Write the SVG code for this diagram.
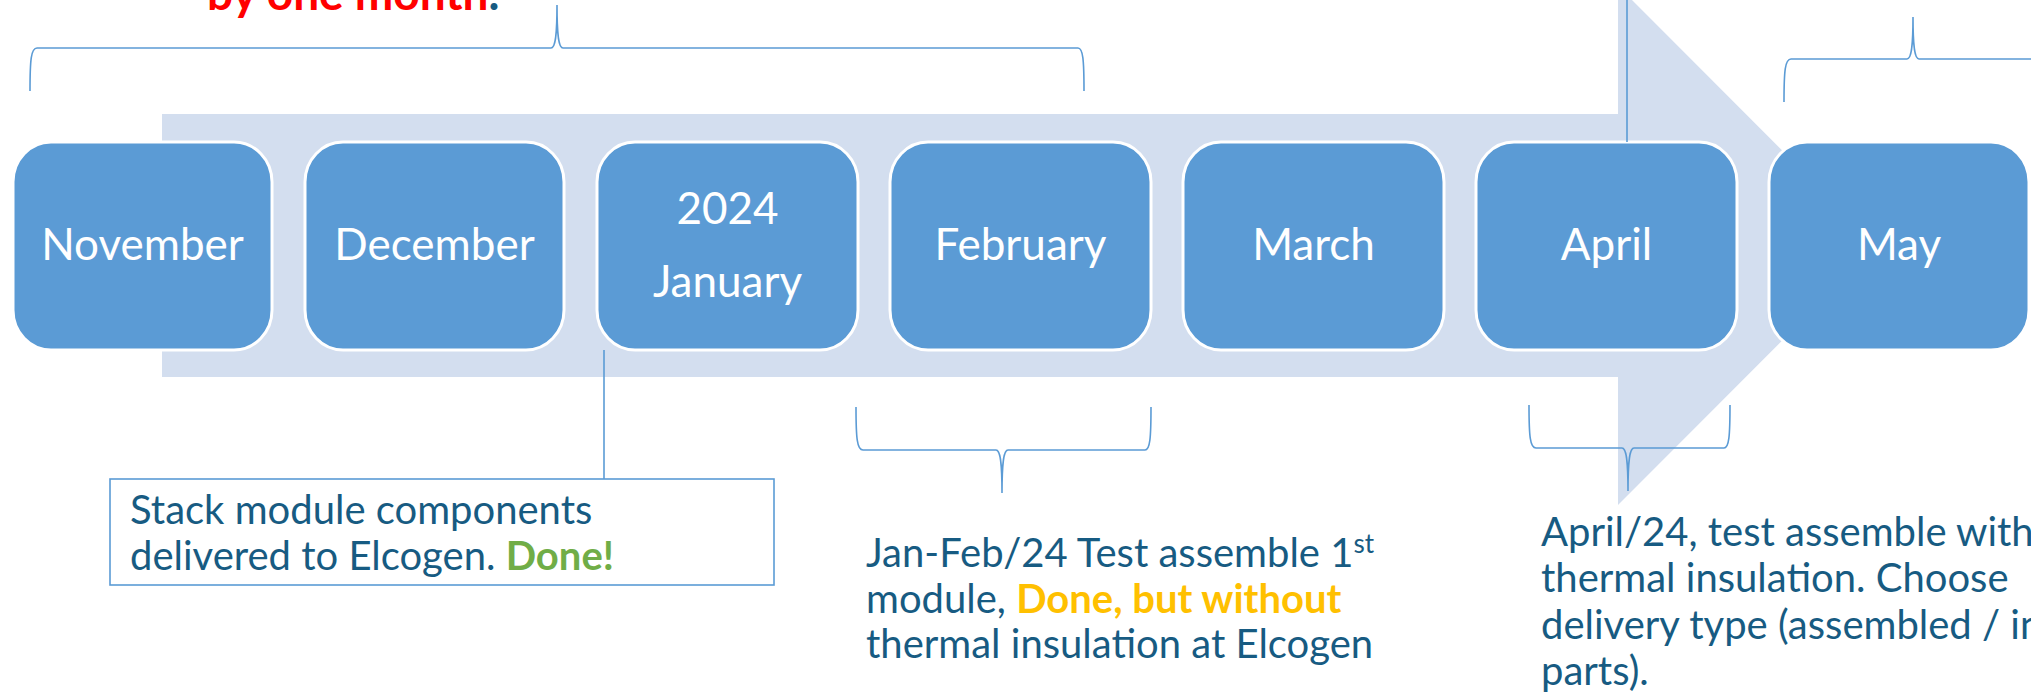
<svg xmlns="http://www.w3.org/2000/svg" width="2031" height="693" viewBox="0 0 2031 693">
  <style>
    .node rect { fill: #5B9BD5; stroke: #FFFFFF; stroke-width: 3; }
    .node text { fill: #FFFFFF; font-family: Lato, "Liberation Sans", sans-serif; font-size: 44px; text-anchor: middle; }
    .brace { fill: none; stroke: #5B9BD5; stroke-width: 1.6; }
    .note { fill: #175B82; font-family: Lato, "Liberation Sans", sans-serif; font-size: 40px; }
    .done { fill: #70AD47; font-weight: bold; }
    .partial { fill: #FFC000; font-weight: bold; }
    .alert { fill: #FF0000; font-family: Lato, "Liberation Sans", sans-serif; font-size: 46px; font-weight: bold; }
  </style>

  <!-- timeline arrow -->
  <polygon id="timeline-arrow" points="162,114 1618,114 1618,-14 1877,245.5 1618,505 1618,377 162,377" fill="#D3DEEF"/>

  <!-- headline fragments at the top edge -->
  <text class="alert" x="207" y="10">by one month<tspan fill="#175B82">.</tspan></text>
  <text class="note" x="1870" y="-9" font-weight="bold">g</text>

  <!-- month nodes -->
  <g id="node-november" class="node">
    <rect x="13" y="142" width="259" height="208" rx="38" ry="40"/>
    <text x="142.5" y="260">November</text>
  </g>
  <g id="node-december" class="node">
    <rect x="305" y="142" width="259" height="208" rx="38" ry="40"/>
    <text x="434.5" y="260">December</text>
  </g>
  <g id="node-january" class="node">
    <rect x="597" y="142" width="261" height="208" rx="38" ry="40"/>
    <text x="727.5" y="224">2024</text>
    <text x="727.5" y="297">January</text>
  </g>
  <g id="node-february" class="node">
    <rect x="890" y="142" width="261" height="208" rx="38" ry="40"/>
    <text x="1020.5" y="260">February</text>
  </g>
  <g id="node-march" class="node">
    <rect x="1183" y="142" width="261" height="208" rx="38" ry="40"/>
    <text x="1313.5" y="260">March</text>
  </g>
  <g id="node-april" class="node">
    <rect x="1476" y="142" width="261" height="208" rx="38" ry="40"/>
    <text x="1606.5" y="260">April</text>
  </g>
  <g id="node-may" class="node">
    <rect x="1769" y="142" width="260" height="208" rx="38" ry="40"/>
    <text x="1899" y="260">May</text>
  </g>

  <!-- connectors: braces and callout lines -->
  <g id="connectors">
    <path class="brace" d="M30,91 C30,60 31,48 37,48 L551,48 C555,48 557,38 557,5 C557,38 559,48 563,48 L1078,48 C1083,48 1084,60 1084,91"/>
    <path class="brace" d="M1784,102 C1784,71 1785,59 1791,59 L1907,59 C1911,59 1913,49 1913,17 C1913,49 1915,59 1919,59 L2035,59 C2041,59 2042,71 2042,102"/>
    <line class="brace" x1="1627" y1="0" x2="1627" y2="142"/>
    <line class="brace" x1="604" y1="350" x2="604" y2="479"/>
    <path class="brace" d="M856,407 C856,438 857,450 863,450 L996,450 C1000,450 1002,460 1002,493 C1002,460 1004,450 1008,450 L1145,450 C1150,450 1151,438 1151,407"/>
    <path class="brace" d="M1529,405 C1529,436 1530,448 1536,448 L1622,448 C1626,448 1628,458 1628,491 C1628,458 1630,448 1634,448 L1724,448 C1729,448 1730,436 1730,405"/>
  </g>

  <!-- note: components delivered -->
  <g id="note-components">
    <rect x="110" y="479" width="664" height="106" fill="#FFFFFF" stroke="#5B9BD5" stroke-width="1.6"/>
    <text class="note" x="130" y="524">Stack module components</text>
    <text class="note" x="130" y="570">delivered to Elcogen. <tspan class="done">Done!</tspan></text>
  </g>

  <!-- note: first module test assembly -->
  <g id="note-first-module">
    <text class="note" x="866" y="567">Jan-Feb/24 Test assemble 1<tspan font-size="26" dy="-14">st</tspan></text>
    <text class="note" x="866" y="613">module, <tspan class="partial">Done, but without</tspan></text>
    <text class="note" x="866" y="658">thermal insulation at Elcogen</text>
  </g>

  <!-- note: April assembly with insulation -->
  <g id="note-april">
    <text class="note" x="1541" y="546">April/24, test assemble with</text>
    <text class="note" x="1541" y="592">thermal insulation. Choose</text>
    <text class="note" x="1541" y="639">delivery type (assembled / in</text>
    <text class="note" x="1541" y="685">parts).</text>
  </g>
</svg>
